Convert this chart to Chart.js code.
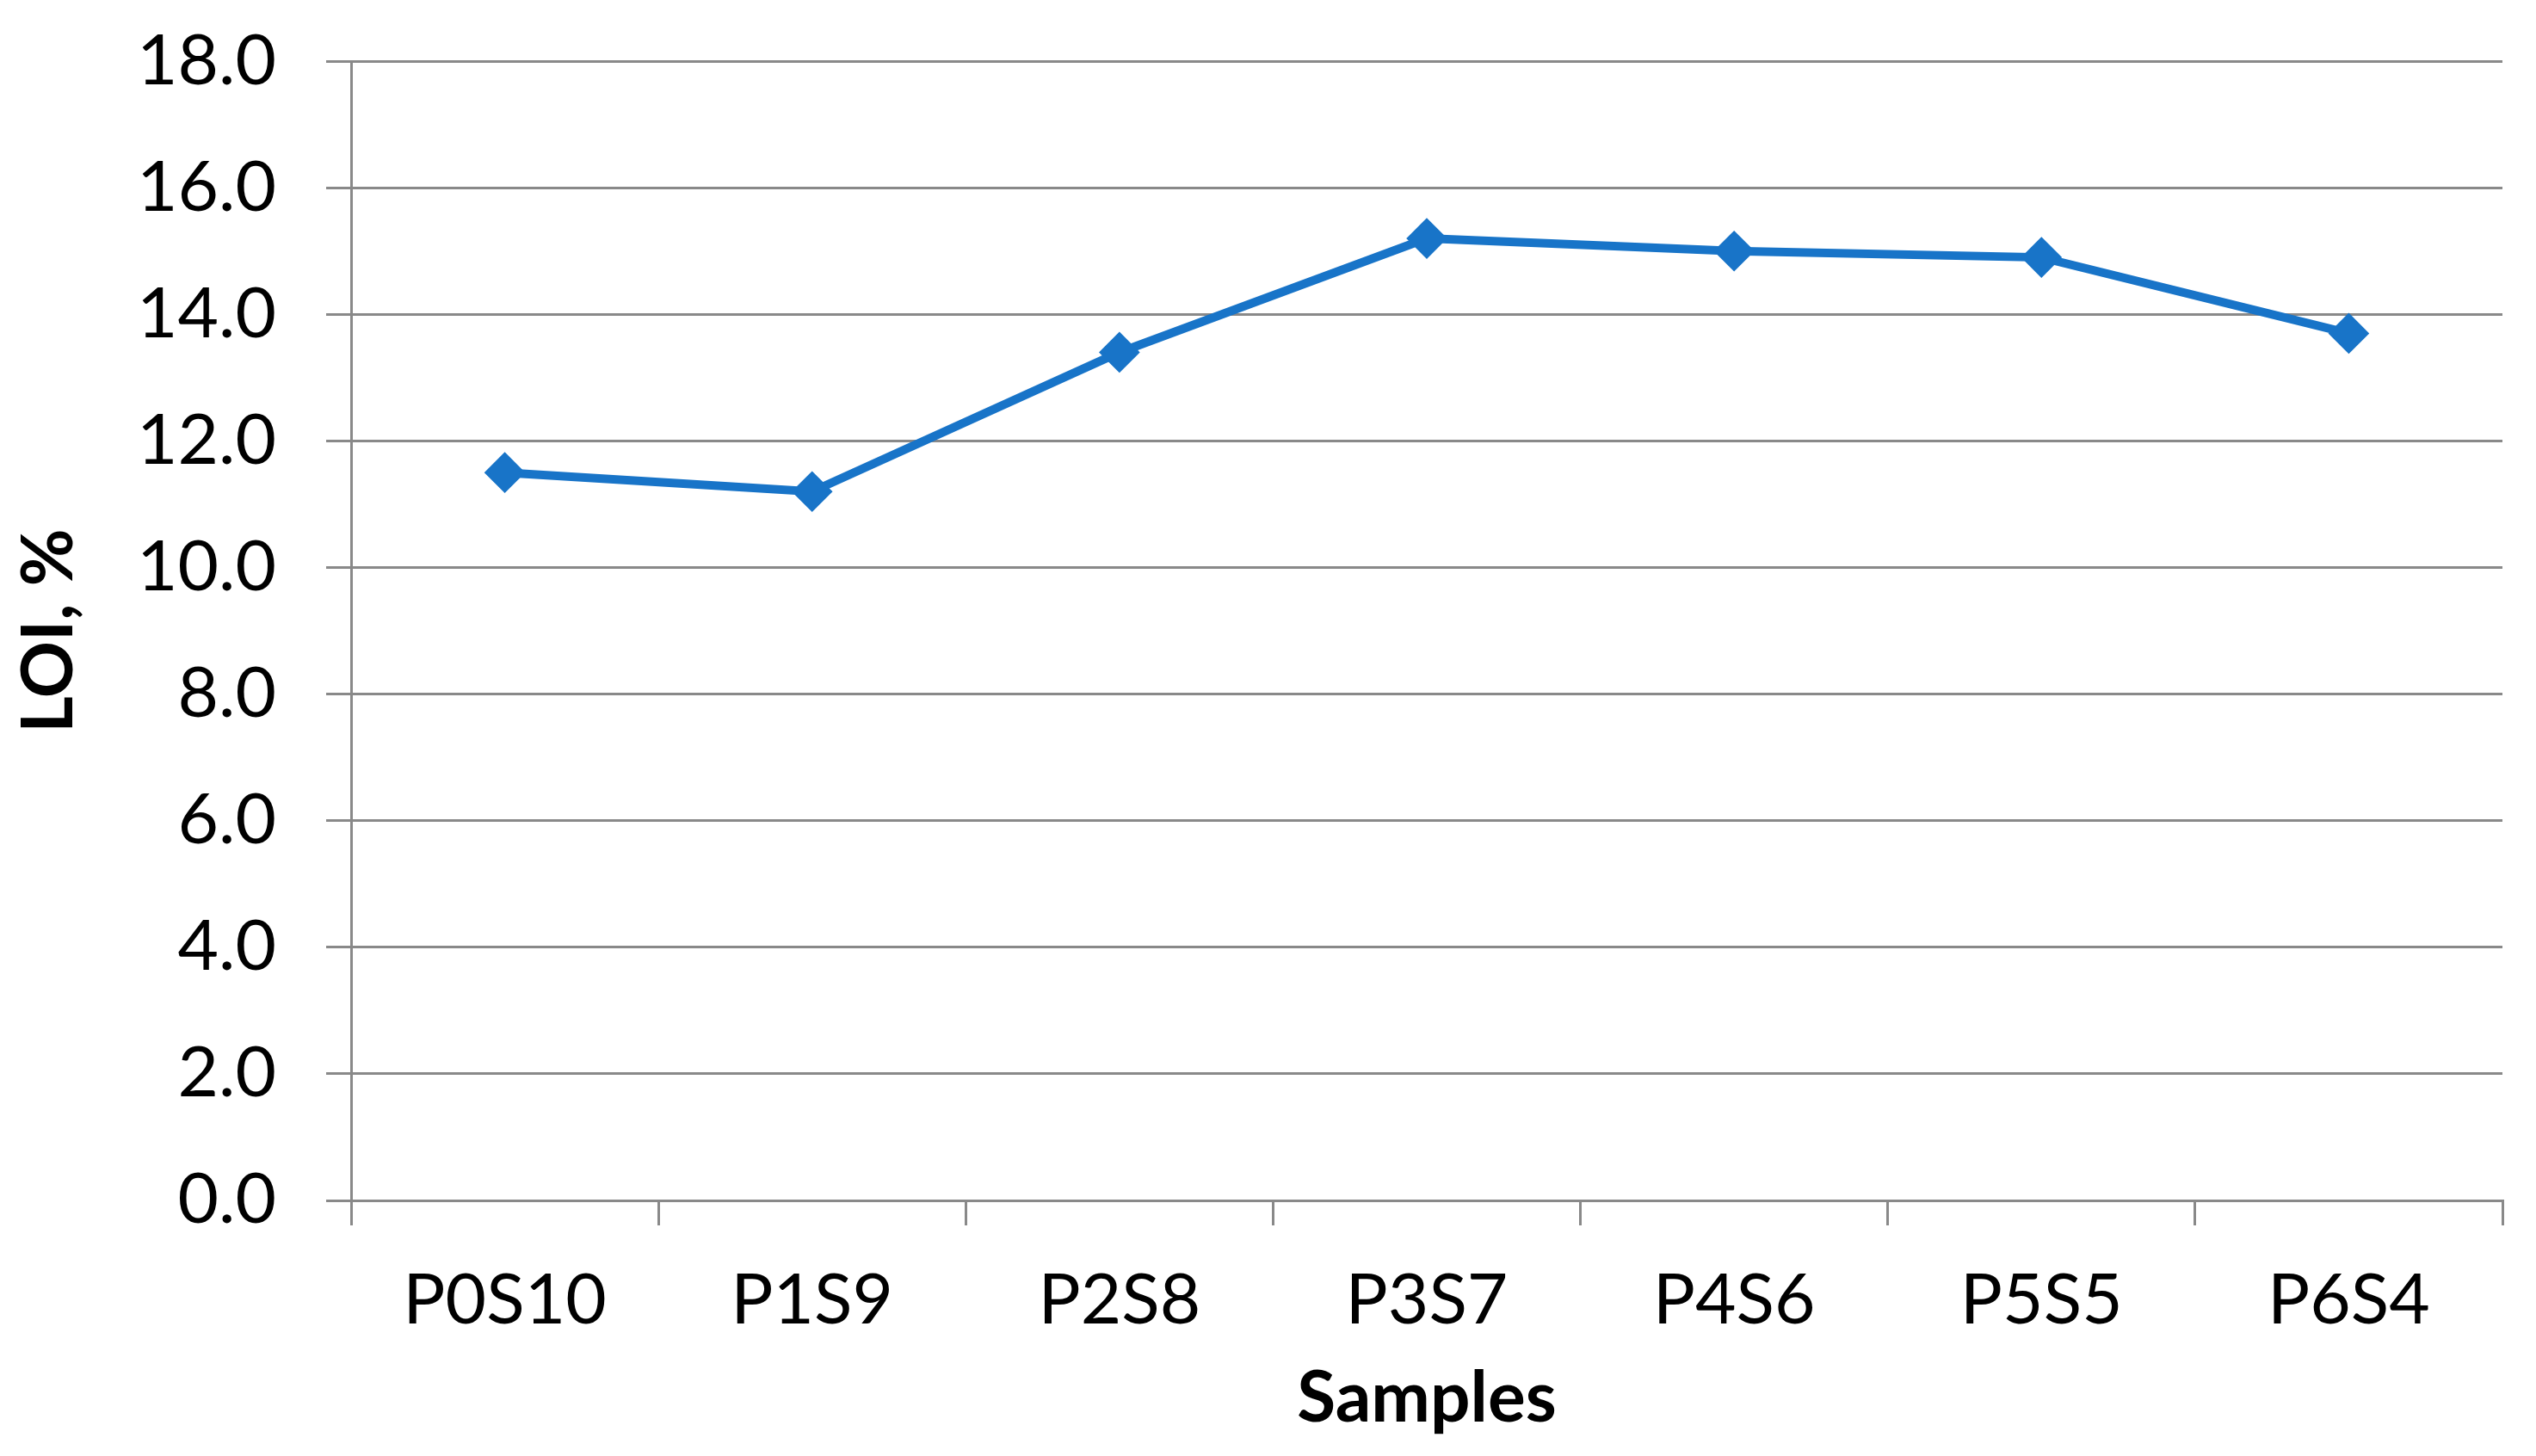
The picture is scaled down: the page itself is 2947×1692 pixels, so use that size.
<!DOCTYPE html>
<html>
<head>
<meta charset="utf-8">
<script src="https://cdn.jsdelivr.net/npm/chart.js@4"></script>
<style>
  html, body { margin: 0; padding: 0; background: #fff; }
  #wrap { width: 2947px; height: 1692px; }
</style>
</head>
<body>
<div id="wrap"><canvas id="chartLoi" width="2947" height="1692"></canvas></div>
<script>
const amostras = ['P0S10', 'P1S9', 'P2S8', 'P3S7', 'P4S6', 'P5S5', 'P6S4'];
const valoresLoi = [11.5, 11.2, 13.4, 15.2, 15.0, 14.9, 13.7];
const eixoYMin = 0;
const eixoYMax = 18;
const eixoYPasso = 2;

const corLinha = '#1874C8';
const corGrade = '#898989';
const fonte = 'Lato, "Open Sans", sans-serif';

const ctx = document.getElementById('chartLoi');

const graficoLoi = new Chart(ctx, {
  type: 'line',
  data: {
    labels: amostras,
    datasets: [{
      label: 'LOI',
      data: valoresLoi,
      borderColor: corLinha,
      backgroundColor: corLinha,
      borderWidth: 10,
      pointStyle: 'rectRot',
      pointRadius: 21,
      pointBorderWidth: 4,
      pointBackgroundColor: corLinha,
      pointBorderColor: corLinha,
      tension: 0
    }]
  },
  options: {
    responsive: false,
    animation: false,
    devicePixelRatio: 1,
    layout: { autoPadding: false, padding: { top: 70, right: 39, bottom: 0, left: 0 } },
    plugins: {
      legend: { display: false },
      tooltip: { enabled: false }
    },
    scales: {
      x: {
        type: 'category',
        offset: true,
        grid: {
          offset: true,
          drawOnChartArea: false,
          color: corGrade,
          lineWidth: 3,
          tickLength: 29
        },
        border: { color: corGrade, width: 3 },
        ticks: {
          color: '#000',
          font: { family: fonte, size: 82 },
          padding: 38,
          maxRotation: 0
        },
        title: {
          display: true,
          text: 'Samples',
          color: '#000',
          font: { family: fonte, size: 82, weight: 'bold' },
          padding: { top: 0, bottom: 17 }
        },
        afterFit: function (scale) { scale.height = 297; }
      },
      y: {
        min: eixoYMin,
        max: eixoYMax,
        grid: {
          color: corGrade,
          lineWidth: 3,
          tickLength: 29
        },
        border: { color: corGrade, width: 3 },
        ticks: {
          stepSize: eixoYPasso,
          color: '#000',
          font: { family: fonte, size: 82, lineHeight: 0.32 },
          padding: 58,
          callback: function (v) { return Number(v).toFixed(1); }
        },
        title: {
          display: true,
          text: 'LOI, %',
          color: '#000',
          font: { family: fonte, size: 82, weight: 'bold' },
          padding: { top: 8, bottom: 0 }
        },
        afterFit: function (scale) { scale.width = 408; }
      }
    }
  }
});
</script>
</body>
</html>
